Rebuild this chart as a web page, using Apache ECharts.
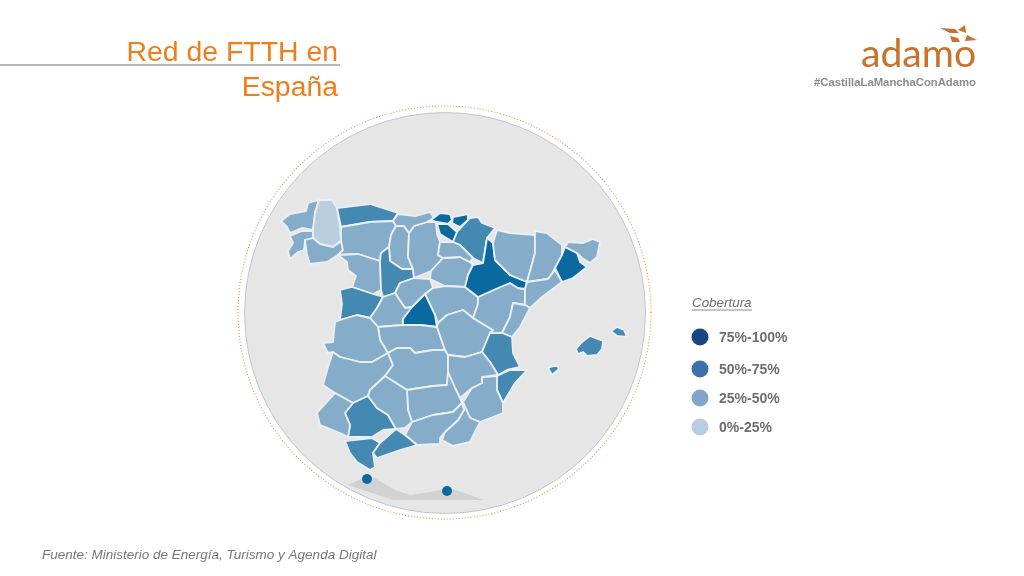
<!DOCTYPE html>
<html>
<head>
<meta charset="utf-8">
<title>Red de FTTH en España</title>
<style>
  html, body { margin: 0; padding: 0; background: #fff; }
  #chart { width: 1024px; height: 576px; }
</style>
<script src="https://cdn.jsdelivr.net/npm/echarts@6/dist/echarts.min.js"></script>
</head>
<body>
<div id="chart"></div>
<script>
// coverage band per province: 3 = 75-100, 2 = 50-75, 1 = 25-50, 0 = 0-25
const provinces = [
  'A Coruña', 'Pontevedra', 'Lugo', 'Ourense', 'Asturias', 'León', 'Zamora', 'Salamanca',
  'Palencia', 'Valladolid', 'Burgos', 'Cantabria', 'Soria', 'Segovia', 'Guadalajara', 'Ávila',
  'Madrid', 'Toledo', 'Cáceres', 'Badajoz', 'Ciudad Real', 'Cuenca', 'Teruel', 'Bizkaia', 'Gipuzkoa',
  'Álava', 'Navarra', 'La Rioja', 'Zaragoza', 'Huesca', 'Lleida', 'Barcelona', 'Girona',
  'Tarragona', 'Castellón', 'Valencia', 'Alicante', 'Murcia', 'Albacete', 'Jaén', 'Almería',
  'Granada', 'Sevilla', 'Córdoba', 'Huelva', 'Cádiz', 'Málaga', 'Mallorca', 'Menorca', 'Ibiza'
];
const coverageBand = [
  1, 1, 0, 1, 2, 1, 1, 2,
  1, 2, 1, 1, 1, 1, 1, 1,
  3, 1, 1, 1, 1, 1, 1, 3, 3,
  3, 2, 1, 3, 1, 1, 3, 1,
  1, 1, 2, 2, 1, 1, 1, 1,
  1, 2, 1, 1, 2, 2, 2, 2, 2
];
const bandLabels = ['0%-25%', '25%-50%', '50%-75%', '75%-100%'];
const bandColors = ['#b9cfdf', '#85adc9', '#4389b2', '#0a6a9f'];
const legendColors = ['#b9cde0', '#80a5c8', '#3d72a8', '#1c4588'];
const cities = ['Ceuta', 'Melilla'];
const cityBand = [3, 3];

// outlines, in its own pixel space
const outlines = {
  'A Coruña': [[281,221],[290,214],[306,211],[308,203],[319,200],[315,213],[313,230],[302,228],[290,233],[287,227]],
  'Lugo': [[319,200],[332,200],[337,208],[340,227],[341,241],[333,247],[320,244],[313,238],[313,230],[315,213]],
  'Pontevedra': [[290,236],[302,231],[313,231],[313,238],[305,240],[304,250],[298,252],[290,259],[288,251],[293,243]],
  'Ourense': [[305,240],[313,238],[320,244],[333,247],[341,241],[343,250],[338,255],[327,262],[310,264],[307,255]],
  'Asturias': [[337,208],[370,204],[398,213],[393,221],[370,222],[341,227]],
  'León': [[341,227],[370,222],[393,221],[396,226],[391,235],[389,247],[381,253],[380,261],[358,254],[338,255],[343,250],[341,241]],
  'Zamora': [[338,255],[358,254],[380,261],[381,290],[373,294],[352,287],[356,276],[348,270],[347,262]],
  'Salamanca': [[340,290],[352,287],[373,294],[383,297],[377,308],[370,318],[357,315],[340,320],[342,304]],
  'Palencia': [[396,226],[404,226],[409,233],[408,257],[413,269],[402,269],[390,261],[389,247],[391,235]],
  'Valladolid': [[381,253],[389,247],[390,261],[402,269],[413,269],[414,278],[400,283],[395,293],[383,297],[381,290],[380,261]],
  'Burgos': [[409,233],[414,226],[427,222],[436,222],[437,234],[440,242],[438,255],[443,258],[431,271],[414,278],[413,269],[408,257]],
  'Cantabria': [[393,221],[398,214],[416,216],[430,212],[434,218],[427,222],[414,226],[409,233],[404,226],[396,226]],
  'Soria': [[431,271],[443,258],[460,257],[470,262],[473,265],[468,275],[465,287],[445,286],[430,279]],
  'Segovia': [[400,283],[414,278],[430,279],[433,288],[425,294],[412,307],[405,308],[395,293]],
  'Guadalajara': [[433,288],[445,286],[465,287],[478,297],[478,304],[473,318],[463,310],[447,315],[438,323],[435,315],[425,294]],
  'Ávila': [[383,297],[395,293],[405,308],[412,307],[403,319],[403,325],[378,327],[370,318],[377,308]],
  'Madrid': [[403,319],[412,307],[425,294],[435,315],[437,327],[420,325],[403,325]],
  'Toledo': [[378,327],[403,325],[420,325],[437,327],[445,350],[433,350],[415,353],[410,348],[397,348],[388,353],[380,340]],
  'Cáceres': [[335,322],[340,320],[357,315],[370,318],[378,327],[380,340],[388,353],[372,362],[360,362],[340,357],[333,352],[328,353],[323,343],[333,342]],
  'Badajoz': [[333,352],[340,357],[360,362],[372,362],[388,353],[393,365],[385,376],[370,390],[368,396],[353,403],[335,393],[323,385],[328,367]],
  'Ciudad Real': [[388,353],[397,348],[410,348],[415,353],[433,350],[445,350],[448,355],[448,372],[447,385],[433,386],[407,390],[385,376],[393,365]],
  'Cuenca': [[438,323],[447,315],[463,310],[473,318],[493,330],[490,333],[482,352],[465,357],[448,355],[445,350],[437,327]],
  'Teruel': [[478,304],[478,297],[498,288],[510,283],[518,288],[525,289],[525,305],[513,303],[510,317],[502,333],[490,333],[493,330],[473,318]],
  'Bizkaia': [[431,220],[440,213],[450,214],[452,220],[448,224],[437,222]],
  'Gipuzkoa': [[453,217],[468,214],[468,220],[460,227],[452,223]],
  'Álava': [[437,224],[448,224],[457,232],[453,242],[440,234]],
  'Navarra': [[457,232],[470,218],[478,217],[482,223],[495,228],[487,238],[483,263],[473,258],[460,245],[453,242]],
  'La Rioja': [[440,242],[453,242],[460,245],[473,258],[470,262],[460,257],[443,258],[438,255]],
  'Zaragoza': [[487,238],[493,243],[495,260],[510,275],[527,282],[525,289],[518,288],[510,283],[498,288],[478,297],[465,287],[468,275],[473,265],[483,263]],
  'Huesca': [[497,230],[510,233],[535,235],[535,253],[527,282],[510,275],[495,260],[493,243]],
  'Lleida': [[535,231],[547,233],[562,245],[562,255],[555,268],[553,272],[548,279],[527,282],[535,253]],
  'Barcelona': [[565,247],[577,253],[580,262],[587,267],[573,278],[562,282],[555,268],[562,255]],
  'Girona': [[568,242],[583,243],[593,239],[600,242],[597,257],[590,263],[582,258],[577,253],[565,247]],
  'Tarragona': [[527,282],[548,279],[555,270],[562,282],[542,297],[530,308],[525,305],[525,289]],
  'Castellón': [[513,303],[525,305],[530,308],[520,327],[512,337],[502,333],[510,317]],
  'Valencia': [[490,333],[502,333],[512,337],[513,353],[520,367],[507,370],[498,375],[490,362],[482,352]],
  'Alicante': [[497,376],[510,370],[527,370],[515,383],[503,403],[497,390]],
  'Murcia': [[482,377],[497,376],[497,390],[503,403],[503,413],[480,422],[470,418],[463,402],[472,388],[482,383]],
  'Albacete': [[448,355],[465,357],[482,352],[490,362],[498,375],[482,377],[482,383],[472,388],[460,398],[455,388],[448,372]],
  'Jaén': [[407,390],[433,386],[447,385],[448,372],[455,388],[460,398],[462,403],[453,412],[433,415],[412,422],[408,410]],
  'Almería': [[463,402],[470,418],[480,422],[470,442],[453,446],[442,440],[445,432],[458,420],[464,410]],
  'Granada': [[412,422],[433,415],[453,412],[462,403],[464,410],[458,420],[445,432],[440,438],[440,444],[417,445],[405,435]],
  'Sevilla': [[345,413],[353,403],[368,396],[377,408],[388,415],[396,429],[383,430],[372,437],[348,437],[350,425]],
  'Córdoba': [[368,396],[370,390],[385,376],[407,390],[408,410],[412,422],[405,428],[396,429],[388,415],[377,408]],
  'Huelva': [[335,393],[353,403],[345,413],[350,425],[348,437],[340,433],[320,425],[317,413]],
  'Cádiz': [[345,441],[372,438],[380,443],[373,453],[375,467],[370,470],[357,462],[350,453]],
  'Málaga': [[380,443],[396,429],[405,435],[417,445],[400,450],[377,458],[373,453]],
  'Mallorca': [[576,349],[582,342],[590,336],[603,341],[602,349],[597,355],[587,356],[583,352],[578,354]],
  'Menorca': [[611,331],[617,327],[624,330],[627,337],[617,336]],
  'Ibiza': [[548,368],[557,365],[559,369],[552,375]]
};
const africaOutline = [[348,485],[365,477],[375,478],[395,490],[410,495],[430,492],[450,488],[470,495],[483,500],[393,500]];
const cityPoints = [[367,479],[447,491]];

const features = provinces.map(name => ({
  type: 'Feature',
  properties: { name: name },
  geometry: { type: 'Polygon', coordinates: [outlines[name]] }
}));
features.push({
  type: 'Feature',
  properties: { name: 'África' },
  geometry: { type: 'Polygon', coordinates: [africaOutline] }
});
echarts.registerMap('spain', { type: 'FeatureCollection', features: features });

const legendRows = [337, 369, 398, 427];
const legendGraphics = [];
bandLabels.slice().reverse().forEach((label, i) => {
  legendGraphics.push({
    type: 'circle',
    shape: { cx: 700, cy: legendRows[i], r: 8.5 },
    style: { fill: legendColors[3 - i] }
  });
  legendGraphics.push({
    type: 'text',
    x: 719, y: legendRows[i] + 1,
    style: { text: label, fill: '#6e6e6e', font: 'bold 14px "Liberation Sans"', textVerticalAlign: 'middle' }
  });
});

const chart = echarts.init(document.getElementById('chart'));
chart.setOption({
  animation: false,
  backgroundColor: '#ffffff',
  title: {
    text: 'Red de FTTH en\nEspaña',
    left: 333,
    top: 31,
    textAlign: 'right',
    textStyle: { color: '#f07d1a', fontSize: 28.4, fontWeight: 'normal', fontFamily: 'Liberation Sans', lineHeight: 35 }
  },
  visualMap: {
    show: false,
    type: 'piecewise',
    seriesIndex: [0],
    dimension: 2,
    pieces: bandColors.map((color, i) => ({ value: i, color: color }))
  },
  geo: {
    map: 'spain',
    projection: { project: p => p, unproject: p => p },
    boundingCoords: [[0, 0], [1024, 576]],
    left: 0, top: 0, width: 1024, height: 576,
    roam: false,
    silent: true,
    label: { show: false },
    itemStyle: { areaColor: '#d3d3d3', borderColor: '#e9eff3', borderWidth: 1.8, borderJoin: 'round' },
    emphasis: { disabled: true },
    select: { disabled: true },
    regions: [{ name: 'África', itemStyle: { areaColor: '#d2d2d2', borderWidth: 0 } }]
  },
  series: [
    {
      type: 'map',
      geoIndex: 0,
      silent: true,
      encode: { value: 2 },
      data: provinces.map((name, i) => ({ name: name, value: [0, 0, coverageBand[i]] }))
    },
    {
      type: 'scatter',
      coordinateSystem: 'geo',
      symbolSize: 10,
      silent: true,
      z: 5,
      itemStyle: { color: bandColors[cityBand[0]], opacity: 1 },
      data: cities.map((name, i) => ({ name: name, value: [cityPoints[i][0], cityPoints[i][1], cityBand[i]] }))
    }
  ],
  graphic: {
    elements: [
      { type: 'circle', z: -2, shape: { cx: 445, cy: 313, r: 200.5 }, style: { fill: '#e6e6e6', stroke: '#a9a9a9', lineWidth: 0.6 } },
      { type: 'circle', z: -2, shape: { cx: 444.5, cy: 312.5, r: 206.5 }, style: { fill: 'none', stroke: '#e88f4a', lineWidth: 1.1, lineDash: [1, 2] } },
      { type: 'line', shape: { x1: 0, y1: 65, x2: 340, y2: 65 }, style: { stroke: '#6f6f6f', lineWidth: 1 } },
      { type: 'text', x: 42, y: 555, style: { text: 'Fuente: Ministerio de Energía, Turismo y Agenda Digital', fill: '#777777', font: 'italic 13.5px "Liberation Sans"', textVerticalAlign: 'middle' } },
      { type: 'text', x: 692, y: 303.5, style: { text: 'Cobertura', fill: '#6e6e6e', font: 'italic 13.4px "Liberation Sans"', textVerticalAlign: 'middle' } },
      { type: 'line', shape: { x1: 692, y1: 310, x2: 752, y2: 310 }, style: { stroke: '#6e6e6e', lineWidth: 0.8 } },
      ...legendGraphics,
      { type: 'text', x: 861, y: 74, scaleX: 1.03, style: { text: 'adamo', fill: '#c8722b', font: '38px Lato', textVerticalAlign: 'bottom' } },
      { type: 'text', x: 976, y: 82.5, style: { text: '#CastillaLaManchaConAdamo', fill: '#8c8c8c', font: 'bold 11.3px "Liberation Sans"', textAlign: 'right', textVerticalAlign: 'middle' } },
      { type: 'polygon', shape: { points: [[940,28],[955,29],[959,33],[950,33]] }, style: { fill: '#c8722b' } },
      { type: 'polygon', shape: { points: [[958,30],[965,25],[966,33]] }, style: { fill: '#c8722b' } },
      { type: 'polygon', shape: { points: [[967,35],[977,40],[965,41]] }, style: { fill: '#c8722b' } },
      { type: 'polygon', shape: { points: [[950,36],[958,38],[960,42],[952,42]] }, style: { fill: '#c8722b' } }
    ]
  }
});
</script>
</body>
</html>
